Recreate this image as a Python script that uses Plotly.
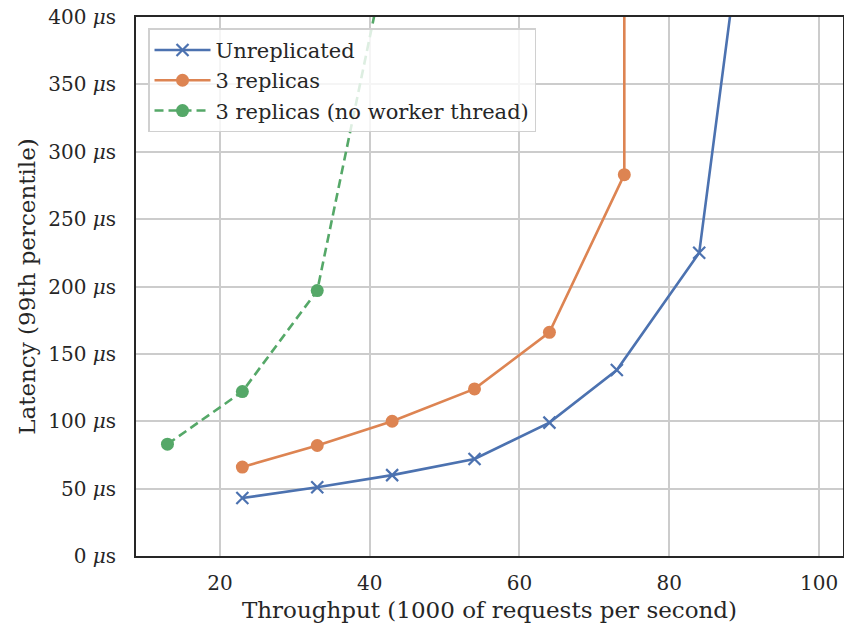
import plotly.graph_objects as go

# Data
unrep_x = [23, 33, 43, 54, 64, 73, 84, 99]
unrep_y = [43, 51, 60, 72, 99, 138, 225, 865]
rep3_x = [23, 33, 43, 54, 64, 74, 74]
rep3_y = [66, 82, 100, 124, 166, 283, 900]
rep3nw_x = [13, 23, 33, 43]
rep3nw_y = [83, 122, 197, 465]

y_tickvals = [0, 50, 100, 150, 200, 250, 300, 350, 400]
y_ticktext = [f"{v} <i>μ</i>s" for v in y_tickvals]
x_tickvals = [20, 40, 60, 80, 100]

BLUE = "#4c72b0"
ORANGE = "#dd8452"
GREEN = "#55a868"
DARK = "#262626"
FONT = "DejaVu Serif"

fig = go.Figure()
fig.add_trace(go.Scatter(
    x=unrep_x, y=unrep_y, name="Unreplicated", mode="lines+markers",
    legendgroup="a",
    line=dict(color=BLUE, width=2.6),
    marker=dict(symbol="x-thin", size=12, line=dict(color=BLUE, width=2.2), color=BLUE),
))
fig.add_trace(go.Scatter(
    x=rep3_x, y=rep3_y, name="3 replicas", mode="lines+markers",
    legendgroup="b",
    line=dict(color=ORANGE, width=2.6),
    marker=dict(symbol="circle", size=13, color=ORANGE),
))
fig.add_trace(go.Scatter(
    x=rep3nw_x, y=rep3nw_y, name="3 replicas (no worker thread)", mode="lines+markers",
    legendgroup="c",
    line=dict(color=GREEN, width=2.6, dash="9px,5px"),
    marker=dict(symbol="circle", size=13, color=GREEN),
))

fig.update_layout(
    width=844, height=632,
    margin=dict(l=136, r=1, t=17, b=76),
    paper_bgcolor="white", plot_bgcolor="white",
    font=dict(family=FONT, size=20, color=DARK),
    showlegend=True,
    legend=dict(
        x=0.017, y=0.979, xanchor="left", yanchor="top",
        bgcolor="rgba(255,255,255,0.8)", bordercolor="#d0d0d0", borderwidth=1.5,
        font=dict(family=FONT, size=21, color=DARK),
        itemwidth=56, tracegroupgap=0,
    ),
)
fig.update_xaxes(
    range=[8.8, 103.2], tickvals=x_tickvals, automargin=False,
    showgrid=True, gridcolor="#cccccc", gridwidth=1.5,
    showline=True, mirror=True, linecolor=DARK, linewidth=2,
    zeroline=False, ticks="", ticklabelstandoff=8,
    tickfont=dict(family=FONT, size=20, color=DARK),
    title=dict(text="Throughput (1000 of requests per second)", font=dict(family=FONT, size=23, color=DARK), standoff=8),
)
fig.update_yaxes(
    range=[0, 400], tickvals=y_tickvals, ticktext=y_ticktext, automargin=False,
    showgrid=True, gridcolor="#cccccc", gridwidth=1.5,
    showline=True, mirror=True, linecolor=DARK, linewidth=2,
    zeroline=False, ticks="", ticklabelstandoff=14,
    tickfont=dict(family=FONT, size=20, color=DARK),
    title=dict(text="Latency (99th percentile)", font=dict(family=FONT, size=23, color=DARK), standoff=6),
)

fig.write_html(
    "out.html",
    config={"displayModeBar": False},
    post_script="document.body.style.margin='0';document.body.style.padding='0';",
)
